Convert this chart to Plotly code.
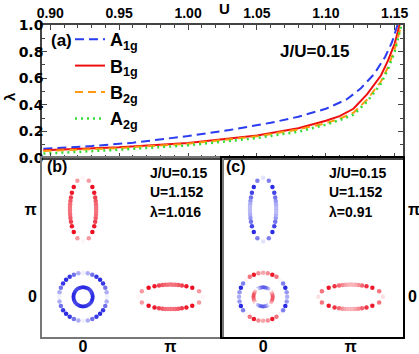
import math
import plotly.graph_objects as go

W, H = 419, 354

# ---- panel (a): pairing eigenvalue vs U ----
U_A1G = [0.895, 0.93, 0.96, 1.00, 1.03, 1.06, 1.08, 1.10, 1.115, 1.125, 1.135, 1.143, 1.148, 1.152]
L_A1G = [0.07, 0.09, 0.115, 0.165, 0.21, 0.265, 0.31, 0.37, 0.44, 0.52, 0.63, 0.76, 0.87, 1.0]

U_B1G = [0.895, 0.95, 1.00, 1.05, 1.08, 1.10, 1.11, 1.12, 1.13, 1.14, 1.145, 1.15, 1.1535]
L_B1G = [0.058, 0.08, 0.113, 0.17, 0.224, 0.28, 0.315, 0.37, 0.48, 0.62, 0.73, 0.86, 1.0]

U_B2G = [0.895, 0.95, 1.00, 1.05, 1.08, 1.10, 1.11, 1.12, 1.13, 1.14, 1.145, 1.15, 1.1548]
L_B2G = [0.053, 0.075, 0.107, 0.163, 0.214, 0.262, 0.295, 0.34, 0.44, 0.575, 0.68, 0.82, 1.0]

U_A2G = [0.895, 0.95, 1.00, 1.05, 1.08, 1.10, 1.11, 1.12, 1.13, 1.14, 1.145, 1.15, 1.1548]
L_A2G = [0.033, 0.062, 0.095, 0.15, 0.198, 0.25, 0.285, 0.325, 0.425, 0.56, 0.665, 0.80, 1.0]

# ---- panels (b),(c): gap on Fermi surface, k in units of pi ----
PHI_DEG = [0, 11.25, 22.5, 33.75, 45, 56.25, 67.5, 78.75, 90, 101.25, 112.5, 123.75,
           135, 146.25, 157.5, 168.75, 180, 191.25, 202.5, 213.75, 225, 236.25, 247.5,
           258.75, 270, 281.25, 292.5, 303.75, 315, 326.25, 337.5, 348.75]

# pocket: center kx, ky, semi-axis x, semi-axis y
POCKETS = {
    "inner": (0.0, 0.0, 0.11, 0.11),
    "outer": (0.0, 0.0, 0.275, 0.275),
    "Y": (0.0, 1.0, 0.15, 0.365),
    "X": (1.0, 0.0, 0.37, 0.14),
}

# gap values for phi = 0 .. 90 deg (first quadrant, mirror symmetric)
GAP_B = {
    "inner": [-0.92, -0.9, -0.85, -0.8, -0.78, -0.8, -0.85, -0.9, -0.92],
    "outer": [-0.06, -0.35, -0.6, -0.85, -0.9, -0.85, -0.6, -0.35, -0.06],
    "Y": [0.55, 0.55, 0.58, 0.65, 0.75, 0.9, 0.95, 0.4, 0.04],
    "X": [0.04, 0.4, 0.95, 0.9, 0.75, 0.65, 0.58, 0.55, 0.55],
}
GAP_C = {
    "inner": [0.7, 0.65, 0.5, 0.25, 0.0, -0.25, -0.5, -0.65, -0.7],
    "outer": [-0.35, -0.45, -0.9, -0.55, 0.04, 0.55, 0.9, 0.45, 0.35],
    "Y": [-0.3, -0.3, -0.35, -0.45, -0.6, -0.8, -0.9, -0.55, -0.12],
    "X": [0.12, 0.55, 0.9, 0.8, 0.6, 0.45, 0.35, 0.3, 0.3],
}

BOLD = "Liberation Sans Narrow, Liberation Sans, Arial"
GAP_SCALE = [[0, "rgb(20,20,225)"], [0.5, "rgb(255,255,255)"], [1, "rgb(235,0,20)"]]


def px(x):
    return x / W


def py(y):
    return 1 - y / H


def pocket_points(name, quad_gap):
    cx, cy, ax, ay = POCKETS[name]
    kx, ky, gap = [], [], []
    for i, phi in enumerate(PHI_DEG):
        t = math.radians(phi)
        r = ax * ay / math.hypot(ay * math.cos(t), ax * math.sin(t))
        kx.append(cx + r * math.cos(t))
        ky.append(cy + r * math.sin(t))
        q = i % 16
        gap.append(quad_gap[q if q <= 8 else 16 - q])
    return kx, ky, gap


fig = go.Figure()

lines = [
    ("A<sub>1g</sub>", U_A1G, L_A1G, dict(color="#2a3cf0", width=2, dash="9px,5px")),
    ("B<sub>1g</sub>", U_B1G, L_B1G, dict(color="#ee1010", width=2)),
    ("B<sub>2g</sub>", U_B2G, L_B2G, dict(color="#ff9a10", width=2, dash="8px,5px")),
    ("A<sub>2g</sub>", U_A2G, L_A2G, dict(color="#35dd35", width=2.5, dash="2px,4px")),
]
for i, (name, u, lam, ln) in enumerate(lines):
    fig.add_trace(go.Scatter(x=u, y=lam, mode="lines", name=name, line=ln,
                             legendgroup=str(i), xaxis="x", yaxis="y"))

for gaps, xa, ya in [(GAP_B, "x2", "y2"), (GAP_C, "x3", "y3")]:
    for name in ["outer", "Y", "X", "inner"]:
        kx, ky, gap = pocket_points(name, gaps[name])
        fig.add_trace(go.Scatter(
            x=kx, y=ky, mode="markers", showlegend=False, xaxis=xa, yaxis=ya,
            marker=dict(size=4 if name == "inner" else 4.5, color=gap,
                        colorscale=GAP_SCALE, cmin=-1, cmax=1, line=dict(width=0))))

tick_a = dict(family=BOLD, size=14, color="black", weight="bold")
kfont = dict(family=BOLD, size=16, color="black", weight="bold")
fig.update_layout(
    width=W, height=H, margin=dict(l=0, r=0, t=0, b=0),
    paper_bgcolor="white", plot_bgcolor="white",
    xaxis=dict(domain=[px(42), px(403)], range=[0.894, 1.156], side="top",
               tickvals=[0.90, 0.95, 1.00, 1.05, 1.10, 1.15], ticktext=["0.90", "0.95", "1.00", "1.05", "1.10", "1.15"],
               ticks="inside", ticklen=5, tickcolor="#444", showline=True, linecolor="#444",
               linewidth=1.5, mirror="ticks", showgrid=False, zeroline=False, tickfont=tick_a,
               minor=dict(dtick=0.01, ticks="inside", ticklen=3, tickcolor="#444", showgrid=False),
               automargin=False, anchor="y"),
    yaxis=dict(domain=[py(158), py(25)], range=[0, 1.0], dtick=0.2, tickformat=".1f",
               ticks="inside", ticklen=5, tickcolor="#444", showline=True, linecolor="#444",
               linewidth=1.5, mirror="ticks", showgrid=False, zeroline=False, ticklabelstandoff=-6,
               tickfont=dict(family="DejaVu Sans", size=14, color="black", weight="bold"),
               minor=dict(dtick=0.1, ticks="inside", ticklen=3, tickcolor="#444", showgrid=False),
               automargin=False, anchor="x"),
    xaxis2=dict(domain=[px(42), px(222)], range=[-0.47, 1.59], tickvals=[0, 1], ticktext=["0", "π"],
                showline=True, linecolor="#777", linewidth=2, mirror=True, ticks="",
                ticklabelstandoff=-6,
                showgrid=False, zeroline=False, tickfont=kfont, automargin=False, anchor="y2"),
    yaxis2=dict(domain=[py(337), py(158)], range=[-0.46, 1.59], tickvals=[0, 1], ticktext=["0", "π"],
                showline=True, linecolor="#777", linewidth=2, mirror=True, ticks="",
                showgrid=False, zeroline=False, tickfont=kfont, automargin=False, anchor="x2"),
    xaxis3=dict(domain=[px(222), px(403)], range=[-0.47, 1.6], tickvals=[0, 1], ticktext=["0", "π"],
                showline=True, linecolor="black", linewidth=1.5, mirror=True, ticks="",
                ticklabelstandoff=-6,
                showgrid=False, zeroline=False, tickfont=kfont, automargin=False, anchor="y3"),
    yaxis3=dict(domain=[py(337), py(158)], range=[-0.46, 1.59], tickvals=[0, 1], ticktext=["0", "π"],
                side="right", showline=True, linecolor="black", linewidth=1.5, mirror=True, ticks="",
                showgrid=False, zeroline=False, tickfont=kfont, automargin=False, anchor="x3"),
    legend=dict(x=px(70), y=py(21), xanchor="left", yanchor="top", bgcolor="rgba(0,0,0,0)",
                font=dict(family=BOLD, size=18, color="black", weight="bold"),
                tracegroupgap=0, itemwidth=30),
    showlegend=True,
)

ann = [
    ("(a)", 62, 41, 17, "center", 0),
    ("J/U=0.15", 278, 52, 17, "left", 0),
    ("U", 224, 8, 15, "center", 0),
    ("λ", 10, 97, 15, "center", -90),
    ("(b)", 57, 166, 16, "center", 0),
    ("J/U=0.15", 148, 173, 14, "left", 0),
    ("U=1.152", 148, 192, 14, "left", 0),
    ("λ=1.016", 148, 212, 14, "left", 0),
    ("(c)", 236, 167, 16, "center", 0),
    ("J/U=0.15", 327, 173, 14, "left", 0),
    ("U=1.152", 327, 192, 14, "left", 0),
    ("λ=0.91", 327, 212, 14, "left", 0),
]
for text, x, y, size, anchor, angle in ann:
    fig.add_annotation(text=text, x=px(x), y=py(y), xref="paper", yref="paper",
                       xanchor=anchor, yanchor="middle", showarrow=False, textangle=angle,
                       font=dict(family=BOLD, size=size, color="black", weight="bold"))

fig.write_html("out.html", config={"displayModeBar": False},
               post_script="document.body.style.margin = '0px';")
